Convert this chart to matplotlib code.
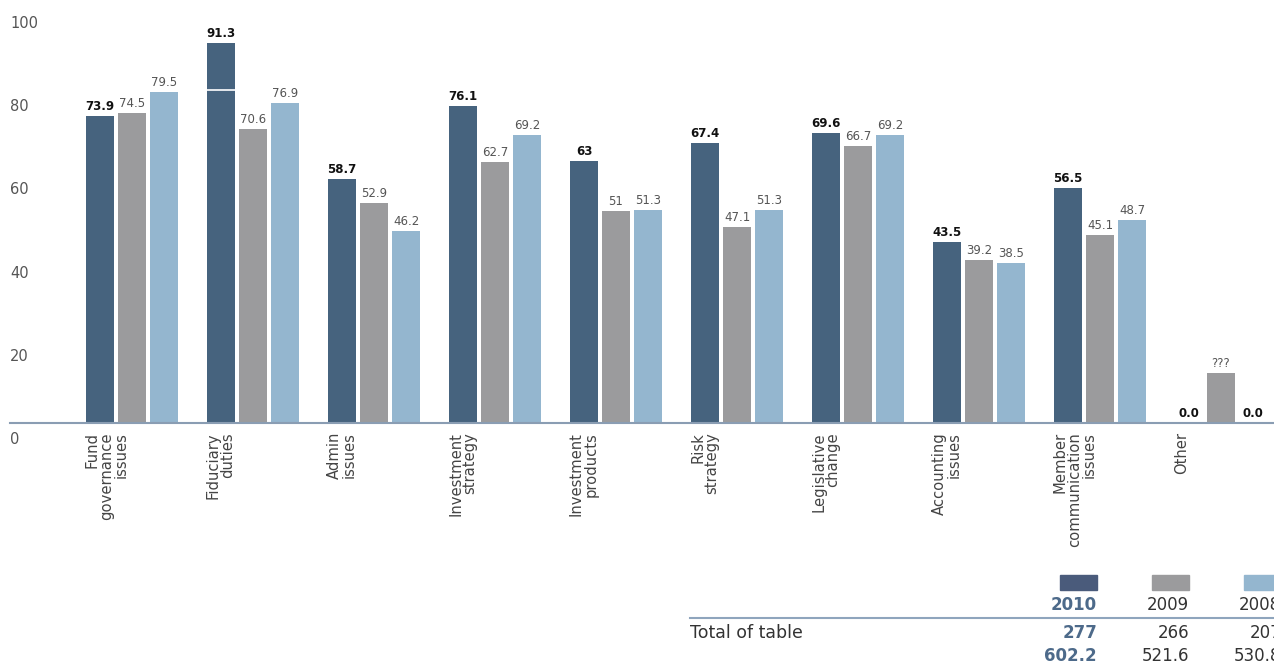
import numpy as np
import matplotlib
matplotlib.use('Agg')
import matplotlib.pyplot as plt
import matplotlib.transforms as mtransforms
from matplotlib.patches import Rectangle

plt.rcParams['font.family'] = ['DejaVu Sans']

categories = ['Fund\ngovernance\nissues', 'Fiduciary\nduties', 'Admin\nissues',
              'Investment\nstrategy', 'Investment\nproducts', 'Risk\nstrategy',
              'Legislative\nchange', 'Accounting\nissues',
              'Member\ncommunication\nissues', 'Other']
years = ['2010', '2009', '2008']
v2010 = [73.9, 91.3, 58.7, 76.1, 63, 67.4, 69.6, 43.5, 56.5, 0.0]
v2009 = [74.5, 70.6, 52.9, 62.7, 51, 47.1, 66.7, 39.2, 45.1, 12]
v2008 = [79.5, 76.9, 46.2, 69.2, 51.3, 51.3, 69.2, 38.5, 48.7, 0.0]
lab2010 = ['73.9', '91.3', '58.7', '76.1', '63', '67.4', '69.6', '43.5', '56.5', '0.0']
lab2009 = ['74.5', '70.6', '52.9', '62.7', '51', '47.1', '66.7', '39.2', '45.1', '???']
lab2008 = ['79.5', '76.9', '46.2', '69.2', '51.3', '51.3', '69.2', '38.5', '48.7', '0.0']
yticks = [0, 20, 40, 60, 80, 100]

# white rule drawn across the 2010 bar of "Fiduciary duties"
break_cat = 1
break_at = 80

totals_label = 'Total of table'
totals_row1 = ['277', '266', '207']
totals_row2 = ['602.2', '521.6', '530.8']

colors = ['#46637e', '#9b9b9d', '#94b6cf']
swatch_colors = ['#4a5b7b', '#9b9b9d', '#94b6cf']

W, H = 1274, 666
fig = plt.figure(figsize=(W / 100, H / 100), dpi=100)

# axes placed in pixel terms: left 10, baseline at 423, value 100 at 7
ax = fig.add_axes([10 / W, 1 - 423 / H, 1264 / W, 416 / H])
ax.set_ylim(0, 100)
ax.set_xlim((10 - 132) / 121, (1274 - 132) / 121)

x = np.arange(len(categories))
bw = 28 / 121
step = 32 / 121
series = [(v2010, lab2010), (v2009, lab2009), (v2008, lab2008)]
for k, (vals, labs) in enumerate(series):
    xs = x + (k - 1) * step
    ax.bar(xs, vals, width=bw, color=colors[k], zorder=2)
    for xi, v, lab in zip(xs, vals, labs):
        bold = (k == 0) or lab == '0.0'
        ax.annotate(lab, (xi, v), xytext=(0, 3), textcoords='offset pixels',
                    ha='center', va='bottom', fontsize=8.5,
                    fontweight='bold' if bold else 'normal',
                    color='#111111' if bold else '#555555')

ax.hlines(break_at, x[break_cat] - step - bw / 2, x[break_cat] - step + bw / 2,
          color='white', lw=1.2, zorder=3)

# category labels, rotated, hanging under the axis line
for xi, cat in zip(x, categories):
    ax.annotate(cat, (xi - step - bw / 2, 0), xytext=(-1, -9),
                textcoords='offset pixels', rotation=90, ha='left', va='top',
                multialignment='right', fontsize=10.6, color='#444444',
                linespacing=0.95)

for s in ['top', 'right', 'left']:
    ax.spines[s].set_visible(False)
ax.spines['bottom'].set_color('#8a9db3')
ax.spines['bottom'].set_linewidth(1.5)
ax.set_xticks([])
ax.set_yticks(yticks)
ax.set_yticklabels([str(t) for t in yticks])
ax.tick_params(axis='y', length=0, pad=0, labelsize=10.5, labelcolor='#555555')
offset = mtransforms.ScaledTranslation(0, -15 / 100, fig.dpi_scale_trans)
for lab in ax.get_yticklabels():
    lab.set_horizontalalignment('left')
    lab.set_transform(lab.get_transform() + offset)

# year key and totals at the bottom right
col_right = [1097, 1189, 1281]
for k in range(3):
    fig.add_artist(Rectangle(((col_right[k] - 37) / W, 1 - 590 / H), 37 / W, 15 / H,
                             transform=fig.transFigure, color=swatch_colors[k]))
    c = '#4d6a8a' if k == 0 else '#333333'
    fw = 'bold' if k == 0 else 'normal'
    fig.text(col_right[k] / W, 1 - 605 / H, years[k], ha='right', va='center',
             fontsize=12, color=c, fontweight=fw)
    fig.text(col_right[k] / W, 1 - 633 / H, totals_row1[k], ha='right', va='center',
             fontsize=12, color=c, fontweight=fw)
    fig.text(col_right[k] / W, 1 - 656 / H, totals_row2[k], ha='right', va='center',
             fontsize=12, color=c, fontweight=fw)
fig.text(690 / W, 1 - 633 / H, totals_label, ha='left', va='center',
         fontsize=12.5, color='#333333')
fig.add_artist(plt.Line2D([690 / W, 1], [1 - 618 / H, 1 - 618 / H],
                          transform=fig.transFigure, color='#8fa5bd', lw=1.5))

fig.savefig('out.png', dpi=100)
